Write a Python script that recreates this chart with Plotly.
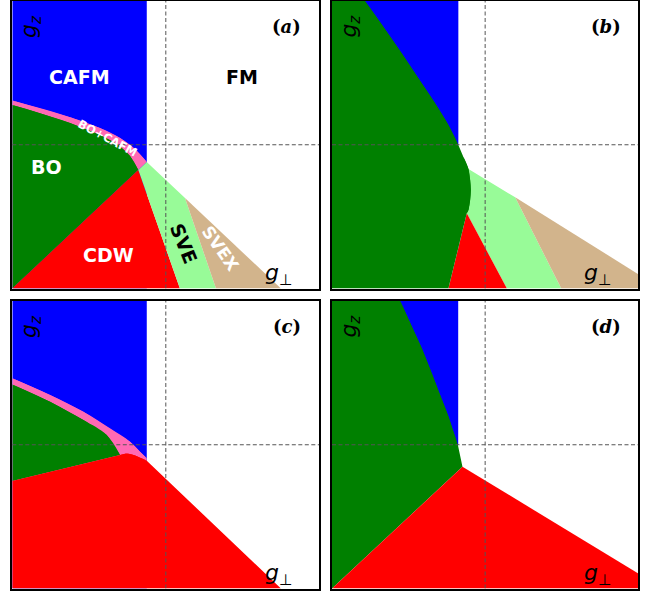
import plotly.graph_objects as go

# Phase colours
C_CAFM = "#0000FF"
C_BO = "#008000"
C_CDW = "#FF0000"
C_SVE = "#98FB98"
C_SVEX = "#D2B48C"
C_MIX = "#FF69B4"

# ---------- panel (a): phase boundaries in (g_perp, g_z) ----------
a_cafm_edge = -0.124
a_mix_top_x = [-1.0, -0.846, -0.624, -0.429, -0.298, -0.201, -0.124]
a_mix_top_y = [0.308, 0.262, 0.192, 0.116, 0.047, -0.030, -0.120]
a_bo_top_x = [-1.0, -0.846, -0.624, -0.429, -0.311, -0.233, -0.179]
a_bo_top_y = [0.276, 0.228, 0.151, 0.067, -0.002, -0.079, -0.176]
a_cdw_sve_x = 0.092          # CDW | SVE boundary at bottom edge
a_sve_svex_top = (0.125, -0.371)
a_sve_svex_x = 0.327         # SVE | SVEX boundary at bottom edge
a_fm_edge_x = 0.75           # outer FM boundary at bottom edge

# ---------- panel (b) ----------
b_cafm_edge = -0.175
b_bo_edge_x = [-0.784, -0.665, -0.544, -0.436, -0.327, -0.240, -0.175, -0.142,
               -0.109, -0.098, -0.0935, -0.098, -0.109, -0.120]
b_bo_edge_y = [1.0, 0.821, 0.636, 0.462, 0.288, 0.137, -0.002, -0.084,
               -0.168, -0.246, -0.315, -0.385, -0.454, -0.477]
b_bo_cdw_x = -0.240
b_cdw_sve_x = 0.142
b_sve_svex_top = (0.196, -0.366)
b_sve_svex_x = 0.497
b_fm_edge_y = -0.90          # outer FM boundary at right edge

# ---------- panel (c) ----------
c_cafm_edge = -0.124
c_mix_top_x = [-1.0, -0.754, -0.537, -0.364, -0.233, -0.168, -0.124]
c_mix_top_y = [0.462, 0.346, 0.230, 0.114, 0.021, -0.048, -0.094]
c_bo_top_x = [-1.0, -0.754, -0.537, -0.385, -0.298]
c_bo_top_y = [0.420, 0.300, 0.172, 0.068, -0.071]
c_bo_cdw_left_y = -0.252
c_cdw_top_x = [-0.298, -0.265, -0.235, -0.200, -0.124, 0.75]
c_cdw_top_y = [-0.071, -0.062, -0.064, -0.075, -0.111, -1.0]

# ---------- panel (d) ----------
d_cafm_edge = -0.176
d_bo_edge_x = [-0.554, -0.478, -0.413, -0.348, -0.294, -0.239, -0.207, -0.178, -0.148]
d_bo_edge_y = [1.0, 0.821, 0.670, 0.496, 0.346, 0.195, 0.090, -0.002, -0.153]
d_fm_edge_y = -0.895

panel_tags = ["a", "b", "c", "d"]

fig = go.Figure()

X_DOM = [[12.3 / 657, 319.3 / 657], [332 / 657, 638.3 / 657]]
Y_DOM = [[1 - 288.5 / 595, 1 - 1 / 595], [1 - 588.5 / 595, 1 - 301 / 595]]


def region(xs, ys, color, ax, smooth=False):
    """Filled polygon; with smooth=True the outline is a spline (used for the
    sliver between a curved boundary and its chord)."""
    xs, ys = list(xs), list(ys)
    if not smooth:
        xs, ys = xs + [xs[0]], ys + [ys[0]]
    fig.add_trace(go.Scatter(
        x=xs, y=ys, mode="lines", fill="toself", fillcolor=color,
        line=dict(width=0, color=color, shape="spline" if smooth else "linear", smoothing=1.0),
        hoverinfo="skip", showlegend=False, xaxis="x" + ax, yaxis="y" + ax))


def curve(xs, ys, color, ax):
    region(xs, ys, color, ax, smooth=True)


# panel (a)
ax = "1"
region([-1, a_cafm_edge, a_cafm_edge, -1], [-1, -1, 1, 1], C_CAFM, ax)
region(a_mix_top_x + [a_bo_top_x[-1], -1], a_mix_top_y + [a_bo_top_y[-1], -1], C_MIX, ax)
curve(a_mix_top_x, a_mix_top_y, C_MIX, ax)
region(a_bo_top_x + [-1], a_bo_top_y + [-1], C_BO, ax)
curve(a_bo_top_x, a_bo_top_y, C_BO, ax)
region([-1, a_bo_top_x[-1], a_cdw_sve_x], [-1, a_bo_top_y[-1], -1], C_CDW, ax)
region([a_bo_top_x[-1], a_mix_top_x[-1], a_sve_svex_top[0], a_sve_svex_x, a_cdw_sve_x],
       [a_bo_top_y[-1], a_mix_top_y[-1], a_sve_svex_top[1], -1, -1], C_SVE, ax)
region([a_sve_svex_top[0], a_fm_edge_x, a_sve_svex_x],
       [a_sve_svex_top[1], -1, -1], C_SVEX, ax)

# panel (b)
ax = "2"
region([-1, b_cafm_edge, b_cafm_edge, -1], [b_bo_edge_y[6], b_bo_edge_y[6], 1, 1], C_CAFM, ax)
region([b_bo_edge_x[8], b_sve_svex_top[0], b_sve_svex_x, b_cdw_sve_x, b_bo_edge_x[-1], -0.3],
       [b_bo_edge_y[8], b_sve_svex_top[1], -1, -1, b_bo_edge_y[-1], -0.3], C_SVE, ax)
region([b_sve_svex_top[0], 1, 1, b_sve_svex_x],
       [b_sve_svex_top[1], b_fm_edge_y, -1, -1], C_SVEX, ax)
region([b_bo_edge_x[-1], b_cdw_sve_x, b_bo_cdw_x], [b_bo_edge_y[-1], -1, -1], C_CDW, ax)
region([-1] + b_bo_edge_x + [b_bo_cdw_x, -1], [1] + b_bo_edge_y + [-1, -1], C_BO, ax)
curve(b_bo_edge_x[:7], b_bo_edge_y[:7], C_BO, ax)
curve(b_bo_edge_x[7:], b_bo_edge_y[7:], C_BO, ax)

# panel (c)
ax = "3"
region([-1, c_cafm_edge, c_cafm_edge, -1], [-1, -1, 1, 1], C_CAFM, ax)
region(c_mix_top_x + [c_cdw_top_x[4], -1], c_mix_top_y + [c_cdw_top_y[4], -1], C_MIX, ax)
curve(c_mix_top_x, c_mix_top_y, C_MIX, ax)
region(c_bo_top_x + [-1], c_bo_top_y + [c_bo_cdw_left_y], C_BO, ax)
curve(c_bo_top_x, c_bo_top_y, C_BO, ax)
region([-1, -1] + c_cdw_top_x, [-1, c_bo_cdw_left_y] + c_cdw_top_y, C_CDW, ax)
curve(c_cdw_top_x[:5], c_cdw_top_y[:5], C_CDW, ax)

# panel (d)
ax = "4"
region([-1, d_cafm_edge, d_cafm_edge, -1], [d_bo_edge_y[7], d_bo_edge_y[7], 1, 1], C_CAFM, ax)
region([-1] + d_bo_edge_x + [-1], [1] + d_bo_edge_y + [-1], C_BO, ax)
curve(d_bo_edge_x[:8], d_bo_edge_y[:8], C_BO, ax)
region([-1, d_bo_edge_x[-1], 1, 1], [-1, d_bo_edge_y[-1], d_fm_edge_y, -1], C_CDW, ax)

layout = dict(width=657, height=595, margin=dict(l=0, r=0, t=0, b=0),
              paper_bgcolor="white", plot_bgcolor="white", showlegend=False)
annotations = []
shapes = []
for i in range(4):
    n = str(i + 1)
    col, row = i % 2, i // 2
    axis_common = dict(range=[-1, 1], showgrid=False, zeroline=False, showticklabels=False,
                       ticks="", showline=True, linecolor="black", linewidth=1.5, mirror=True,
                       fixedrange=True)
    layout["xaxis" + ("" if n == "1" else n)] = dict(domain=X_DOM[col], anchor="y" + n, **axis_common)
    layout["yaxis" + ("" if n == "1" else n)] = dict(domain=Y_DOM[row], anchor="x" + n, **axis_common)
    xr, yr = "x" + n, "y" + n
    for (x0, y0, x1, y1) in [(0, -1, 0, 1), (-1, 0, 1, 0)]:
        shapes.append(dict(type="line", xref=xr, yref=yr, x0=x0, y0=y0, x1=x1, y1=y1,
                           line=dict(color="#555555", width=1, dash="4px,2.5px"), layer="above"))
    annotations.append(dict(xref=xr, yref=yr, x=-0.885, y=0.826, text="<i>g<sub>z</sub></i>",
                            textangle=-90, showarrow=False,
                            font=dict(family="DejaVu Sans", size=22, color="black")))
    annotations.append(dict(xref=xr, yref=yr, x=0.735, y=-0.905, text="<i>g</i><sub>⊥</sub>",
                            showarrow=False, font=dict(family="DejaVu Sans", size=22, color="black")))
    annotations.append(dict(xref=xr, yref=yr, x=0.787, y=0.821,
                            text="<b>(<i>%s</i>)</b>" % panel_tags[i], showarrow=False,
                            font=dict(family="DejaVu Serif", size=18, color="black")))

# phase names in panel (a)
phase_labels = [
    ("CAFM", -0.559, 0.471, 0, "white", 19),
    ("FM", 0.494, 0.469, 0, "black", 19),
    ("BO", -0.780, -0.153, 0, "white", 19),
    ("CDW", -0.375, -0.768, 0, "white", 19),
    ("SVE", 0.114, -0.686, 68, "black", 19),
    ("SVEX", 0.353, -0.721, 55, "white", 17),
    ("BO+CAFM", -0.381, 0.045, 28, "white", 11.5),
]
for txt, x, y, ang, colr, sz in phase_labels:
    annotations.append(dict(xref="x1", yref="y1", x=x, y=y, text="<b>%s</b>" % txt, textangle=ang,
                            showarrow=False, font=dict(family="DejaVu Sans", size=sz, color=colr)))

layout["annotations"] = annotations
layout["shapes"] = shapes
fig.update_layout(**layout)
fig.write_html("out.html", config={"displayModeBar": False})
